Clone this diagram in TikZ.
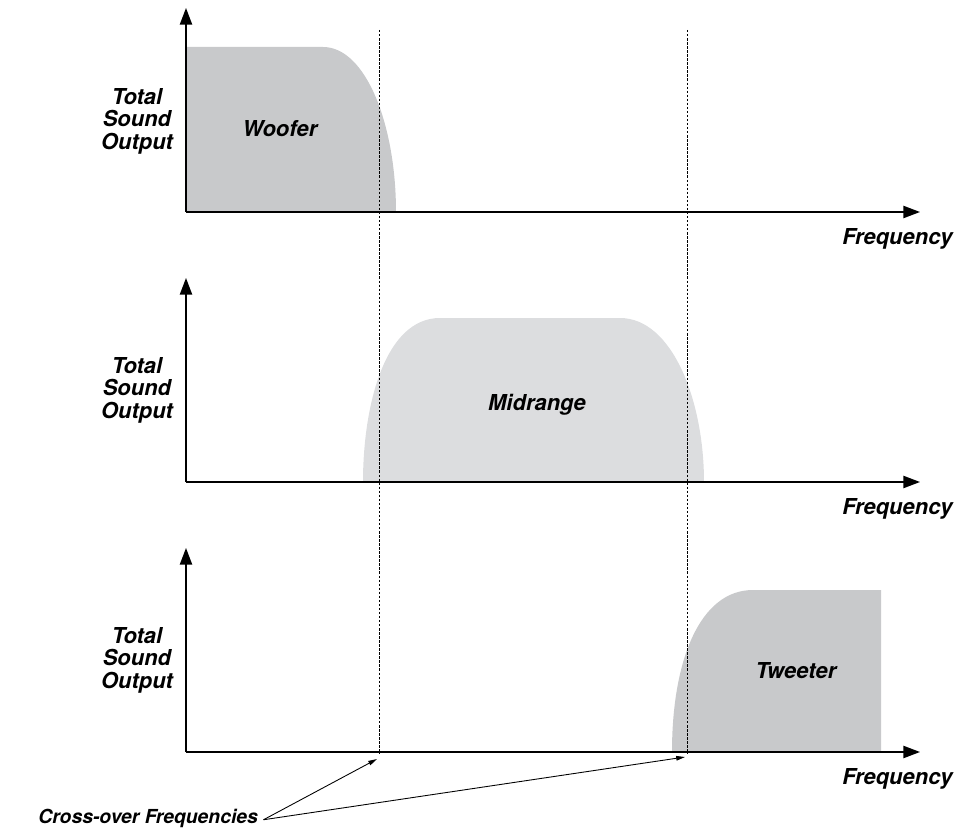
\documentclass[tikz,border=0pt]{standalone}
\usepackage{fontspec}
\setmainfont{TeX Gyre Heros}
\usetikzlibrary{arrows.meta}
\definecolor{darkfill}{HTML}{C8C9CB}
\definecolor{lightfill}{HTML}{DCDDDF}
\tikzset{
  axis/.style={line width=0.8pt,-{Triangle[length=9.5pt,width=7pt]}},
  lbl/.style={inner sep=0pt,font=\fontsize{12.5}{12.8}\selectfont\bfseries\itshape},
  ylbl/.style={lbl,align=center},
  crossline/.style={line width=0.45pt,dash pattern=on 1.4pt off 0.9pt},
  pointer/.style={line width=0.5pt,-{Triangle[length=5pt,width=2.6pt]}},
}
\begin{document}
\begin{tikzpicture}[x=0.02cm,y=-0.02cm]
\useasboundingbox (0,0) rectangle (961,838);
% woofer panel
\begin{scope}
\fill[darkfill] (186,212)--(186,47)--(323,47) .. controls (366,47) and (396,125) .. (396,212)--cycle;
\node[lbl] (woofer) at (280,129) {Woofer};
\coordinate (o1) at (186,212);
\draw[axis] (o1)--++(0,-204); \draw[axis] (o1)--++(734,0);
\node[ylbl] (out1) at (137,121) {Total\\Sound\\Output};
\node[lbl,anchor=base east] (freq1) at (953,244) {Frequency};
\end{scope}
% midrange panel
\begin{scope}[shift={(0,270)}]
\fill[lightfill] (363,212) .. controls (363,135) and (385,48) .. (440,48)--(620,48) .. controls (672,48) and (704,130) .. (704,212)--cycle;
\node[lbl] (midrange) at (537,135) {Midrange};
\coordinate (o2) at (186,212);
\draw[axis] (o2)--++(0,-204); \draw[axis] (o2)--++(734,0);
\node[ylbl] (out2) at (137,120) {Total\\Sound\\Output};
\node[lbl,anchor=base east] (freq2) at (953,244) {Frequency};
\end{scope}
% tweeter panel
\begin{scope}[shift={(0,540)}]
\fill[darkfill] (672,212) .. controls (672,120) and (700,50) .. (753,50)--(881,50)--(881,212)--cycle;
\node[lbl] (tweeter) at (796,131) {Tweeter};
\coordinate (o3) at (186,212);
\draw[axis] (o3)--++(0,-204); \draw[axis] (o3)--++(734,0);
\node[ylbl] (out3) at (137,120) {Total\\Sound\\Output};
\node[lbl,anchor=base east] (freq3) at (953,244) {Frequency};
\end{scope}
% cross-over lines
\coordinate (x1top) at (379,30); \coordinate (x1bot) at (379,754);
\coordinate (x2top) at (687,30); \coordinate (x2bot) at (687,754);
\draw[crossline] (x1top)--(x1bot); \draw[crossline] (x2top)--(x2bot);
\node[lbl,font=\fontsize{11}{12}\selectfont\bfseries\itshape,anchor=west] (xover) at (38,818) {Cross-over Frequencies};
\coordinate (tip1) at (377,759); \coordinate (tip2) at (685,757);
\draw[pointer] ([xshift=3pt,yshift=-1pt]xover.east)--(tip1);
\draw[pointer] ([xshift=3pt,yshift=-1pt]xover.east)--(tip2);
\end{tikzpicture}
\end{document}
